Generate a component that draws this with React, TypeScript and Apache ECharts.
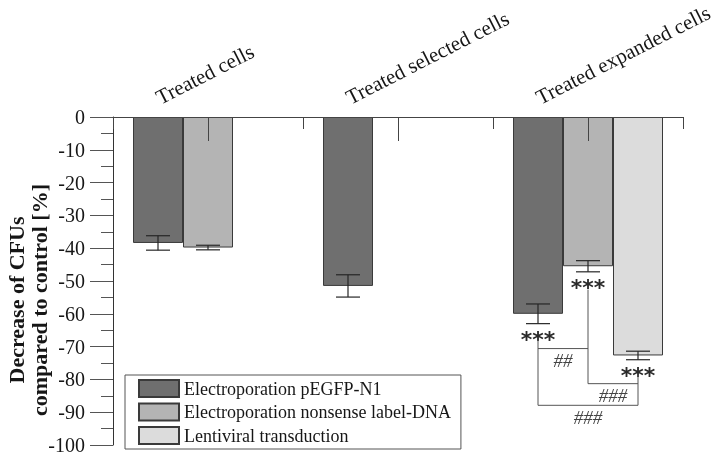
import React, { useEffect, useRef } from 'react';
import * as echarts from 'echarts';

const categories = ['Treated cells', 'Treated selected cells', 'Treated expanded cells'];
const seriesNames = ['Electroporation pEGFP-N1', 'Electroporation nonsense label-DNA', 'Lentiviral transduction'];

const pEGFPValues = [-38.4, -51.5, -60.0];
const pEGFPErrors = [2.2, 3.4, 3.0];
const nonsenseValues = [-39.8, null, -45.5];
const nonsenseErrors = [0.7, null, 1.7];
const lentiValues = [null, null, -72.7];
const lentiErrors = [null, null, 1.3];

// significance stars under each bar (per series, per category)
const pEGFPStars = ['', '', '***'];
const nonsenseStars = ['', '', '***'];
const lentiStars = ['', '', '***'];

// drop lines: [category, seriesIndex, startValue, endValue]
const dropLines = [
  [2, 0, -68.0, -87.9],
  [2, 1, -52.6, -81.3],
  [2, 2, -78.5, -87.9],
];
// brackets: [category, seriesA, seriesB, level]
const brackets = [
  [2, 0, 1, -70.6],
  [2, 1, 2, -81.3],
  [2, 0, 2, -87.9],
];
const bracketLabels = ['##', '###', '###'];

const yMin = -100;
const yMax = 0;
const yInterval = 10;

const SERIF = '"Liberation Serif", "Times New Roman", serif';
const SANS = '"DejaVu Sans", sans-serif';
const COLORS = ['#6f6f6f', '#b4b4b4', '#dcdcdc'];
const BAR_W = 50;
const CAP = 12;
const TEXT = '#161616';

const valueSets = [pEGFPValues, nonsenseValues, lentiValues];
const errorSets = [pEGFPErrors, nonsenseErrors, lentiErrors];
const starSets = [pEGFPStars, nonsenseStars, lentiStars];

const errorRows: number[][] = [];
const errorStars: string[] = [];
valueSets.forEach((vals, s) => {
  vals.forEach((v, c) => {
    const e = errorSets[s][c];
    if (v !== null && e !== null) {
      errorRows.push([c, s, v as number, e as number]);
      errorStars.push(starSets[s][c]);
    }
  });
});

export default function App() {
  const ref = useRef<HTMLDivElement>(null);
  useEffect(() => {
    if (!ref.current) return;
    const chart = echarts.init(ref.current, undefined, { renderer: 'svg' });
    const barSeries = valueSets.map((vals, s) => ({
      type: 'bar',
      name: seriesNames[s],
      xAxisIndex: 0,
      data: vals.map((v) => (v === null ? '-' : v)),
      barWidth: BAR_W,
      barGap: '0%',
      itemStyle: { color: COLORS[s], borderColor: '#3a3a3a', borderWidth: 1 },
      z: 2,
    }));
    chart.setOption({
      animation: false,
      grid: { left: 113, right: 31, top: 117, bottom: 11 },
      legend: {
        orient: 'vertical',
        left: 125,
        top: 375,
        itemWidth: 40,
        itemHeight: 17,
        itemGap: 4.5,
        padding: [4, 10, 4, 13],
        borderColor: '#555',
        borderWidth: 1,
        icon: 'rect',
        data: seriesNames,
        textStyle: { fontSize: 18, fontFamily: SERIF, color: TEXT },
      },
      xAxis: [
        {
          type: 'category',
          position: 'top',
          data: categories,
          z: 5,
          axisLine: { show: true, lineStyle: { color: '#444', width: 1 } },
          axisTick: { show: true, alignWithLabel: true, inside: true, length: 24, lineStyle: { color: '#444' } },
          axisLabel: { show: false },
          splitLine: { show: false },
        },
        {
          type: 'category',
          position: 'top',
          data: categories,
          z: 5,
          axisLine: { show: false },
          axisTick: { show: true, inside: true, length: 12, lineStyle: { color: '#444' } },
          axisLabel: { show: false },
          splitLine: { show: false },
        },
      ],
      yAxis: {
        type: 'value',
        min: yMin,
        max: yMax,
        interval: yInterval,
        axisLine: { show: true, lineStyle: { color: '#333', width: 1 } },
        axisTick: { show: true, inside: false, length: 23, lineStyle: { color: '#555' } },
        minorTick: { show: true, splitNumber: 2, length: 12, lineStyle: { color: '#555' } },
        splitLine: { show: false },
        axisLabel: { margin: 28, fontSize: 20, fontFamily: SERIF, color: TEXT },
      },
      series: [
        ...barSeries,
        {
          type: 'custom',
          xAxisIndex: 0,
          data: errorRows,
          encode: { x: 0, y: 2 },
          z: 4,
          renderItem: (params: any, api: any) => {
            const c = api.value(0);
            const s = api.value(1);
            const m = api.value(2);
            const e = api.value(3);
            const cx = api.coord([c, m])[0] + (s - 1) * BAR_W;
            const yHi = api.coord([c, m + e])[1];
            const yLo = api.coord([c, m - e])[1];
            const style = { stroke: '#262626', lineWidth: 1.2 };
            const children: any[] = [
              { type: 'line', shape: { x1: cx, y1: yHi, x2: cx, y2: yLo }, style },
              { type: 'line', shape: { x1: cx - CAP, y1: yHi, x2: cx + CAP, y2: yHi }, style },
              { type: 'line', shape: { x1: cx - CAP, y1: yLo, x2: cx + CAP, y2: yLo }, style },
            ];
            const star = errorStars[params.dataIndex];
            if (star) {
              children.push({
                type: 'text',
                x: cx,
                y: yLo + 16,
                style: { text: star, fontSize: 22, fontWeight: 'bold', fontFamily: SANS, fill: '#2a2a2a', align: 'center', verticalAlign: 'middle' },
              });
            }
            return { type: 'group', children };
          },
        },
        {
          type: 'custom',
          xAxisIndex: 0,
          data: dropLines,
          encode: { x: 0, y: 2 },
          z: 4,
          renderItem: (params: any, api: any) => {
            const c = api.value(0);
            const s = api.value(1);
            const p1 = api.coord([c, api.value(2)]);
            const p2 = api.coord([c, api.value(3)]);
            const x = p1[0] + (s - 1) * BAR_W;
            return { type: 'line', shape: { x1: x, y1: p1[1], x2: x, y2: p2[1] }, style: { stroke: '#555', lineWidth: 1 } };
          },
        },
        {
          type: 'custom',
          xAxisIndex: 0,
          data: brackets,
          encode: { x: 0, y: 3 },
          z: 4,
          renderItem: (params: any, api: any) => {
            const c = api.value(0);
            const a = api.value(1);
            const b = api.value(2);
            const p = api.coord([c, api.value(3)]);
            const xa = p[0] + (a - 1) * BAR_W;
            const xb = p[0] + (b - 1) * BAR_W;
            return {
              type: 'group',
              children: [
                { type: 'line', shape: { x1: xa, y1: p[1], x2: xb, y2: p[1] }, style: { stroke: '#555', lineWidth: 1 } },
                {
                  type: 'text',
                  x: (xa + xb) / 2,
                  y: p[1] + 12,
                  style: { text: bracketLabels[params.dataIndex], fontSize: 19, fontStyle: 'italic', fontFamily: SERIF, fill: '#444', align: 'center', verticalAlign: 'middle' },
                },
              ],
            };
          },
        },
      ],
    });
    const y0 = chart.convertToPixel({ yAxisIndex: 0 }, 0) as number;
    const labelGraphics = categories.map((c) => {
      const cx = chart.convertToPixel({ xAxisIndex: 0 }, c) as number;
      return {
        type: 'text',
        x: cx - 46,
        y: y0 - 9,
        rotation: (27 * Math.PI) / 180,
        style: { text: c, fontSize: 21, fontFamily: SERIF, fill: TEXT, align: 'left', verticalAlign: 'bottom' },
      };
    });
    chart.setOption({
      graphic: [
        ...labelGraphics,
        {
          type: 'text',
          x: 28,
          y: 300,
          rotation: Math.PI / 2,
          style: {
            text: 'Decrease of CFUs\ncompared to control [%]',
            fontSize: 22,
            fontWeight: 'bold',
            fontFamily: SERIF,
            fill: TEXT,
            align: 'center',
            verticalAlign: 'middle',
            lineHeight: 23,
          },
        },
      ],
    });
    return () => chart.dispose();
  }, []);
  return <div ref={ref} style={{ position: 'fixed', left: 0, top: 0, width: 714, height: 456 }} />;
}
